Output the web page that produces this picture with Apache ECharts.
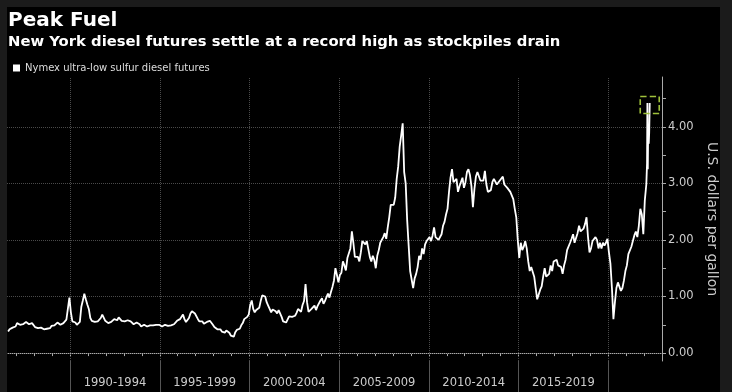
<!DOCTYPE html>
<html><head><meta charset="utf-8">
<script src="https://cdn.jsdelivr.net/npm/echarts@6/dist/echarts.min.js"></script>
<style>
html,body{margin:0;padding:0;background:#1b1b1b;width:732px;height:392px;overflow:hidden;}
#c{position:absolute;left:7px;top:7px;width:713px;height:385px;background:#000;}
</style>
</head><body><div id="c"></div>
<script>
// ---- data (monthly settlements, U.S. dollars per gallon) ----
const seriesName = 'Nymex ultra-low sulfur diesel futures';
const firstYear = 1986, firstMonth = 7;
const p1986_1989 = [
  0.38,0.42,0.44,0.45,0.47,0.47,
  0.53,0.50,0.50,0.50,0.51,0.52,0.55,0.54,0.51,0.54,0.53,0.50,
  0.46,0.44,0.44,0.46,0.45,0.43,0.42,0.44,0.43,0.41,0.44,0.48,
  0.50,0.49,0.52,0.54,0.52,0.50,0.50,0.53,0.56,0.59,0.61,0.98];
const p1990_1994 = [
  0.72,0.56,0.55,0.54,0.50,0.48,0.55,0.82,0.93,1.05,0.95,0.86,
  0.78,0.62,0.57,0.57,0.55,0.54,0.56,0.58,0.62,0.68,0.66,0.57,
  0.54,0.53,0.52,0.55,0.57,0.60,0.59,0.58,0.63,0.62,0.57,0.55,
  0.56,0.57,0.58,0.57,0.56,0.53,0.51,0.53,0.54,0.56,0.51,0.47,
  0.49,0.50,0.48,0.47,0.48,0.49,0.50,0.49,0.48,0.50,0.51,0.50];
const p1995_1999 = [
  0.48,0.47,0.47,0.50,0.50,0.48,0.47,0.49,0.51,0.51,0.53,0.57,
  0.56,0.60,0.63,0.68,0.60,0.55,0.58,0.62,0.70,0.74,0.71,0.70,
  0.70,0.60,0.56,0.55,0.56,0.52,0.53,0.55,0.53,0.57,0.56,0.50,
  0.46,0.45,0.42,0.44,0.42,0.38,0.37,0.36,0.40,0.39,0.36,0.31,
  0.32,0.29,0.37,0.41,0.40,0.43,0.49,0.53,0.60,0.57,0.64,0.68];
const p2000_2004 = [
  0.85,0.93,0.78,0.72,0.76,0.78,0.80,0.92,1.02,1.05,1.00,0.90,
  0.84,0.78,0.72,0.77,0.80,0.74,0.70,0.76,0.75,0.64,0.56,0.54,
  0.54,0.56,0.65,0.66,0.64,0.63,0.66,0.71,0.78,0.80,0.73,0.85,
  0.92,1.22,0.90,0.73,0.74,0.78,0.80,0.84,0.76,0.83,0.85,0.93,
  0.97,0.87,0.92,0.95,1.05,0.98,1.08,1.17,1.28,1.50,1.38,1.25];
const p2005_2009 = [
  1.38,1.42,1.62,1.55,1.46,1.68,1.65,1.85,2.15,1.95,1.70,1.72,
  1.70,1.62,1.78,1.98,1.95,1.92,1.98,1.95,1.70,1.62,1.72,1.65,
  1.50,1.72,1.82,1.95,1.98,2.05,2.12,2.02,2.22,2.40,2.62,2.60,
  2.62,2.75,3.08,3.30,3.65,3.85,4.06,3.20,3.00,2.35,1.90,1.45,
  1.42,1.15,1.32,1.40,1.52,1.72,1.65,1.85,1.75,1.92,1.98,1.95];
const p2010_2014 = [
  2.05,1.98,2.08,2.22,2.05,2.05,2.00,2.02,2.10,2.25,2.32,2.45,
  2.55,2.85,3.10,3.25,3.02,3.00,3.08,2.85,2.95,2.98,3.10,2.92,
  3.02,3.20,3.25,3.15,2.95,2.58,2.90,3.12,3.20,3.18,3.05,3.02,
  3.05,3.22,2.98,2.85,2.85,2.88,3.02,3.08,3.05,2.98,2.95,3.05,
  3.02,3.12,2.98,2.95,2.92,2.92,2.85,2.85,2.72,2.55,2.40,2.00];
const p2015_2019 = [
  1.68,1.95,1.82,1.88,1.98,1.85,1.62,1.45,1.52,1.50,1.35,1.15,
  0.95,0.92,1.12,1.18,1.35,1.50,1.35,1.38,1.40,1.55,1.45,1.62,
  1.62,1.65,1.55,1.58,1.52,1.40,1.55,1.65,1.82,1.85,1.95,2.02,
  2.10,1.95,1.98,2.12,2.25,2.15,2.15,2.20,2.28,2.40,2.05,1.78,
  1.85,1.98,2.00,2.05,2.00,1.85,1.95,1.85,1.95,1.90,1.95,2.02];
const p2020_2022 = [
  1.78,1.58,1.15,0.60,0.90,1.15,1.25,1.22,1.10,1.15,1.28,1.45,
  1.55,1.75,1.78,1.88,1.98,2.08,2.15,2.05,2.25,2.55,2.45,2.10,
  2.70,2.98];
const recentDays   = ['2022-03-01','2022-03-08','2022-03-16','2022-03-24','2022-04-05','2022-04-14','2022-04-25'];
const recentPrices = [3.35, 4.42, 3.25, 3.95, 3.70, 3.90, 4.42];

const bandStarts = [1990, 1995, 2000, 2005, 2010, 2015, 2020];
const bandLabels = ['1990-1994','1995-1999','2000-2004','2005-2009','2010-2014','2015-2019'];
const yTickValues = [0, 1, 2, 3, 4];
const yMinorTicks = [0, 0.5, 1, 1.5, 2, 2.5, 3, 3.5, 4, 4.5];
const yearTicks = [1987,1988,1989,1990,1991,1992,1993,1994,1995,1996,1997,1998,1999,2000,2001,2002,2003,2004,2005,2006,2007,2008,2009,2010,2011,2012,2013,2014,2015,2016,2017,2018,2019,2020,2021,2022];

// ---- build series ----
const monthly = [].concat(p1986_1989, p1990_1994, p1995_1999, p2000_2004, p2005_2009, p2010_2014, p2015_2019, p2020_2022);
const data = [];
let yy = firstYear, mm = firstMonth;
monthly.forEach(v => {
  data.push([yy + (mm - 0.5) / 12, v]);
  mm++; if (mm > 12) { mm = 1; yy++; }
});
recentDays.forEach((d, i) => {
  const [a, b, c] = d.split('-').map(Number);
  data.push([a + (b - 1) / 12 + (c - 1) / 365, recentPrices[i]]);
});
const last = data[data.length - 1];
const labelCenters = bandLabels.map((_, i) => bandStarts[i] + 2.5);

const FONT = 'DejaVu Sans';
const chart = echarts.init(document.getElementById('c'), null, {renderer: 'canvas'});
const gridLineStyle = {type: 'dotted', color: '#4a4a4a', width: 1};
chart.setOption({
  backgroundColor: '#000',
  animation: false,
  title: [
    {text: 'Peak Fuel', left: 1, top: 4, padding: 0,
     textStyle: {color: '#fff', fontSize: 20, fontWeight: 'bold', fontFamily: FONT}},
    {text: 'New York diesel futures settle at a record high as stockpiles drain', left: 1, top: 28, padding: 0,
     textStyle: {color: '#fff', fontSize: 14.8, fontWeight: 'bold', fontFamily: FONT}}
  ],
  legend: {
    left: 6, top: 56, padding: 0, icon: 'rect', itemWidth: 7, itemHeight: 7,
    textStyle: {color: '#ddd', fontSize: 10, fontFamily: FONT},
    data: [seriesName]
  },
  grid: {left: 0, right: 58, top: 70, bottom: 31, outerBoundsMode: 'none'},
  xAxis: [
    {
      type: 'value', min: 1986.48, max: 2023.0, position: 'bottom',
      axisLine: {show: true, lineStyle: {color: '#aaa', width: 1}},
      axisTick: {show: true, customValues: yearTicks, length: 3, lineStyle: {color: '#aaa'}},
      axisLabel: {show: true, customValues: labelCenters, margin: 16, color: '#ccc', fontSize: 11.5, fontFamily: FONT,
        formatter: v => bandLabels[labelCenters.indexOf(v)] || ''},
      splitLine: {show: false}
    },
    {
      type: 'value', min: 1986.48, max: 2023.0, position: 'bottom',
      axisLine: {show: false},
      axisTick: {show: true, customValues: bandStarts, length: 31, lineStyle: {color: '#555'}},
      axisLabel: {show: false},
      splitLine: {show: false}
    }
  ],
  yAxis: {
    type: 'value', position: 'right', min: -0.14, max: 4.88,
    axisLine: {show: true, lineStyle: {color: '#aaa', width: 1}},
    axisTick: {show: true, customValues: yMinorTicks, length: 4, lineStyle: {color: '#aaa'}},
    axisLabel: {show: true, customValues: yTickValues, margin: 6, color: '#ccc', fontSize: 11.5, fontFamily: FONT,
      formatter: v => v.toFixed(2)},
    splitLine: {show: false},
    name: 'U.S. dollars per gallon', nameLocation: 'middle', nameRotate: -90, nameGap: 43,
    nameTextStyle: {color: '#ccc', fontSize: 14, fontFamily: FONT}
  },
  series: [{
    name: seriesName, type: 'line', data: data, xAxisIndex: 0,
    showSymbol: false, symbol: 'none',
    lineStyle: {color: '#fff', width: 1.8}, itemStyle: {color: '#fff'},
    markLine: {
      silent: true, symbol: ['none', 'none'], label: {show: false}, lineStyle: gridLineStyle, z: 1,
      data: yTickValues.map(v => ({yAxis: v})).concat(bandStarts.map(v => ({xAxis: v})))
    },
    markPoint: {
      silent: true, symbol: 'rect', symbolSize: [19, 17], symbolOffset: [0, 2], label: {show: false},
      itemStyle: {color: 'rgba(0,0,0,0)', borderColor: '#9fc13b', borderType: 'dashed', borderWidth: 1.5},
      data: [{coord: last}]
    }
  }]
});
</script></body></html>
